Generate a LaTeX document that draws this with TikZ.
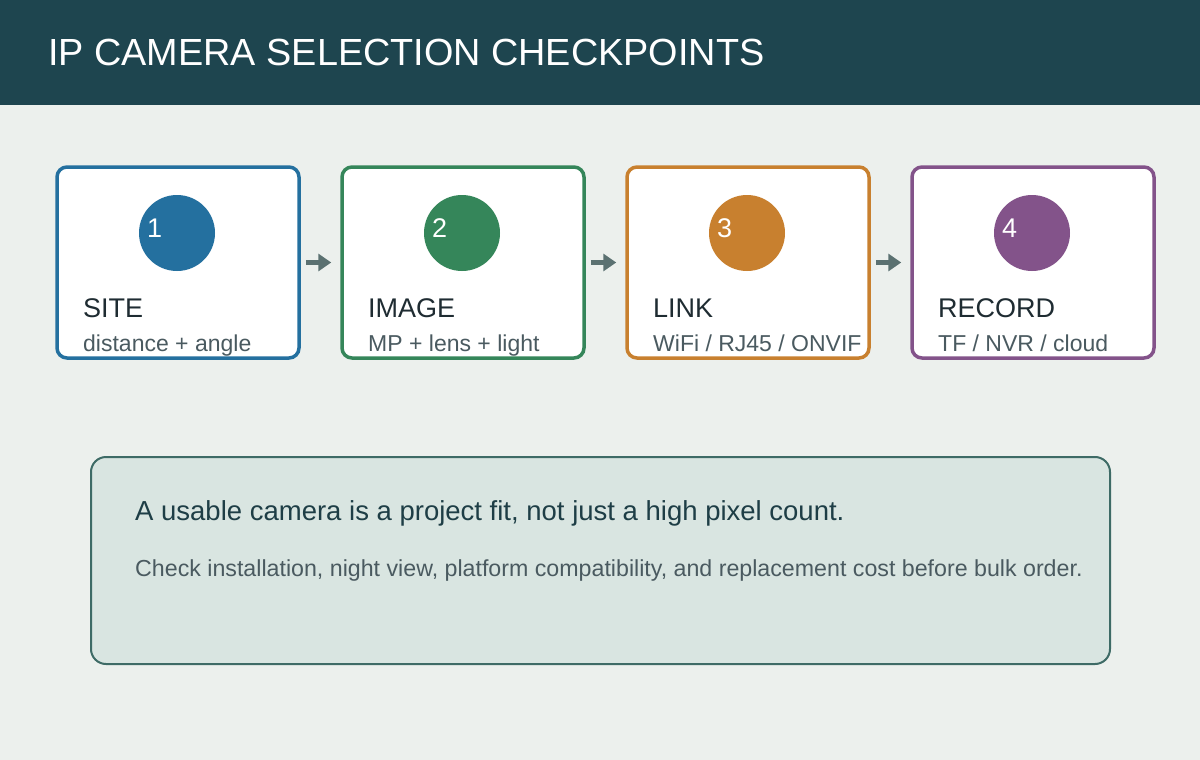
\documentclass[tikz,border=0pt]{standalone}
\usepackage{fontspec}
\setmainfont{Liberation Sans}
\usepackage{tikz}
\usetikzlibrary{arrows.meta,calc,positioning}
\definecolor{bgpage}{HTML}{ECF0ED}
\definecolor{headbar}{HTML}{1E454F}
\definecolor{cblue}{HTML}{24709F}
\definecolor{cgreen}{HTML}{35865A}
\definecolor{corange}{HTML}{C8802F}
\definecolor{cpurple}{HTML}{83538A}
\definecolor{darkink}{HTML}{1F2C32}
\definecolor{softink}{HTML}{4A5A60}
\definecolor{arrowgray}{HTML}{5B7171}
\definecolor{notefill}{HTML}{D9E5E1}
\definecolor{noteedge}{HTML}{3E6B66}
\definecolor{noteink}{HTML}{1E3E46}

\begin{document}
\begin{tikzpicture}[x=1pt,y=-1pt,
    card/.style={draw=#1, line width=3.5pt, fill=white, rounded corners=10pt,
      minimum width=242pt, minimum height=191pt, inner sep=0pt},
    badge/.style={circle, fill=#1, minimum size=76pt, inner sep=0pt},
    num/.style={anchor=base west, text=white, font=\fontsize{27}{31}\selectfont, inner sep=0pt},
    head/.style={anchor=base west, text=darkink, font=\fontsize{27}{31}\selectfont, inner sep=0pt},
    sub/.style={anchor=base west, text=softink, font=\fontsize{23}{27}\selectfont, inner sep=0pt},
    flow/.style={-{Triangle[length=13pt,width=17pt]}, line width=5pt, draw=arrowgray,
      shorten <=5pt, shorten >=9pt}]
        % page and title bar
        \useasboundingbox (0,0) rectangle (1200,760);
        \fill[bgpage] (0,0) rectangle (1200,760);
        \fill[headbar] (0,0) rectangle (1200,105);
        \node[anchor=base west, text=white, inner sep=0pt,
          font=\fontsize{37.8}{42}\selectfont] (title) at (48,66) {IP CAMERA SELECTION CHECKPOINTS};
        % the four cards
        \node[card=cblue] (site) at (178,262.5) {};
        \node[card=cgreen] (image) at (463,262.5) {};
        \node[card=corange] (link) at (748,262.5) {};
        \node[card=cpurple] (record) at (1033,262.5) {};
        % number badges
        \node[badge=cblue] (b1) at (177,233) {};
        \node[num] (k1) at (147,237) {1};
        \node[badge=cgreen] (b2) at (462,233) {};
        \node[num] (k2) at (432,237) {2};
        \node[badge=corange] (b3) at (747,233) {};
        \node[num] (k3) at (717,237) {3};
        \node[badge=cpurple] (b4) at (1032,233) {};
        \node[num] (k4) at (1002,237) {4};
        % card texts
        \node[head] (h1) at (83,317) {SITE};
        \node[sub] (s1) at (83,351) {distance + angle};
        \node[head] (h2) at (368,317) {IMAGE};
        \node[sub] (s2) at (368,351) {MP + lens + light};
        \node[head] (h3) at (653,317) {LINK};
        \node[sub] (s3) at (653,351) {WiFi / RJ45 / ONVIF};
        \node[head] (h4) at (938,317) {RECORD};
        \node[sub] (s4) at (938,351) {TF / NVR / cloud};
        % arrows between cards
        \draw[flow] (site.east) -- (image.west);
        \draw[flow] (image.east) -- (link.west);
        \draw[flow] (link.east) -- (record.west);
        % note box
        \node[draw=noteedge, line width=2pt, fill=notefill, rounded corners=15pt,
          minimum width=1019pt, minimum height=207pt, inner sep=0pt] (note) at (600.5,560.5) {};
        \node[anchor=base west, text=noteink, inner sep=0pt,
          font=\fontsize{27.5}{31}\selectfont] (lead) at (135,520) {A usable camera is a project fit, not just a high pixel count.};
        \node[anchor=base west, text=softink, inner sep=0pt,
          font=\fontsize{23.2}{27}\selectfont] (hint) at (135,576) {Check installation, night view, platform compatibility, and replacement cost before bulk order.};
      \end{tikzpicture}
\end{document}
